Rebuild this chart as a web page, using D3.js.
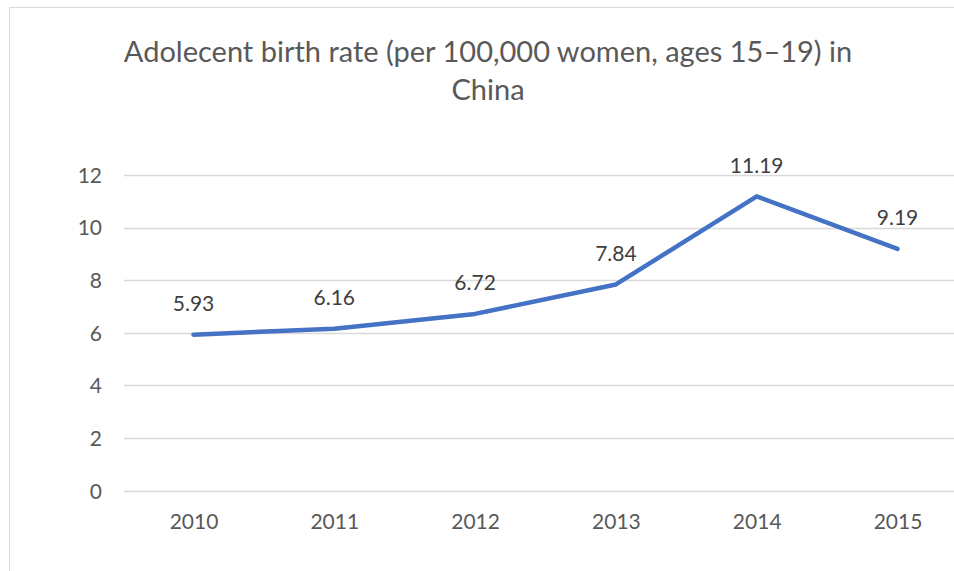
<!DOCTYPE html>
<html><head><meta charset="utf-8">
<script src="https://cdn.jsdelivr.net/npm/d3@7"></script>
<style>body{margin:0;background:#fff}svg{display:block}</style>
</head><body>
<script>
const years = ["2010","2011","2012","2013","2014","2015"];
const rates = [5.93, 6.16, 6.72, 7.84, 11.19, 9.19];
const yTicks = [0, 2, 4, 6, 8, 10, 12];
const titleLines = ["Adolecent birth rate (per 100,000 women, ages 15\u201319) in", "China"];

const W = 954, H = 571;
const font = "Lato, 'Open Sans', sans-serif";
const svg = d3.select("body").append("svg").attr("width", W).attr("height", H);

svg.append("rect").attr("x", 9.5).attr("y", 7.5).attr("width", 1000).attr("height", 1000)
  .attr("fill", "#fff").attr("stroke", "#d9d9d9").attr("stroke-width", 1);

const x = d3.scalePoint().domain(years).range([193.5, 897.5]);
const y = d3.scaleLinear().domain([0, 12]).range([490.7, 175]);

// gridlines
svg.append("g").selectAll("line").data(yTicks).join("line")
  .attr("x1", 124).attr("x2", 970)
  .attr("y1", d => Math.round(y(d)) + 0.5).attr("y2", d => Math.round(y(d)) + 0.5)
  .attr("stroke", "#d9d9d9").attr("stroke-width", 1.3);

// y axis labels
const yAxis = d3.axisLeft(y).tickValues(yTicks).tickSize(0).tickPadding(0);
const gy = svg.append("g").attr("transform", "translate(102,0)").call(yAxis);
gy.select(".domain").remove();
gy.selectAll("text").attr("fill", "#595959").style("font-family", font).style("font-size", "21px").attr("dy", "0.35em");

// x axis labels
const xAxis = d3.axisBottom(x).tickSize(0).tickPadding(0);
const gx = svg.append("g").attr("transform", "translate(0,529)").call(xAxis);
gx.select(".domain").remove();
gx.selectAll("text").attr("fill", "#595959").style("font-family", font).style("font-size", "21px").attr("dy", "0");

// line
const line = d3.line().x((d, i) => x(years[i])).y(d => y(d));
svg.append("path").datum(rates).attr("d", line).attr("fill", "none")
  .attr("stroke", "#4472C4").attr("stroke-width", 4.5)
  .attr("stroke-linecap", "round").attr("stroke-linejoin", "round");

// data labels
svg.append("g").selectAll("text").data(rates).join("text")
  .attr("x", (d, i) => x(years[i]))
  .attr("y", d => y(d) - 23.5)
  .attr("text-anchor", "middle").attr("fill", "#404040")
  .style("font-family", font).style("font-size", "21px")
  .text(d => d.toFixed(2));

// title
svg.append("g").selectAll("text").data(titleLines).join("text")
  .attr("x", 488).attr("y", (d, i) => 62 + i * 38)
  .attr("text-anchor", "middle").attr("fill", "#595959")
  .style("font-family", font).style("font-size", "29px")
  .text(d => d);
</script>
</body></html>
